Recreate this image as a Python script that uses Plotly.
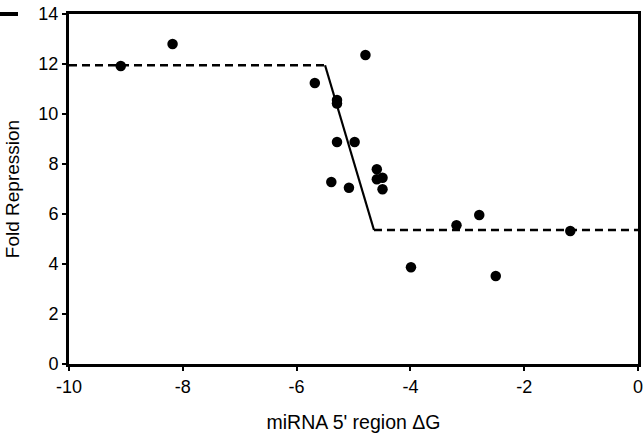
import plotly.graph_objects as go

# Data points
dg = [-9.09, -8.18, -5.68, -5.29, -5.29, -4.79, -5.29, -4.98, -5.39, -5.08,
      -4.59, -4.59, -4.49, -4.49, -3.99, -3.19, -2.79, -2.50, -1.19]
fold = [11.92, 12.80, 11.24, 10.56, 10.42, 12.36, 8.88, 8.88, 7.28, 7.05,
        7.79, 7.39, 7.45, 6.99, 3.87, 5.55, 5.96, 3.52, 5.32]

# Piecewise fit: plateau, transition, plateau
upper_x = [-10, -5.50]
upper_y = [11.95, 11.95]
slope_x = [-5.50, -4.64]
slope_y = [11.95, 5.36]
lower_x = [-4.64, 0]
lower_y = [5.36, 5.36]

x_ticks = [-10, -8, -6, -4, -2, 0]
y_ticks = [0, 2, 4, 6, 8, 10, 12, 14]
x_ticktext = [str(v) for v in x_ticks]   # plain hyphen minus, as in the original
y_ticktext = [str(v) for v in y_ticks]

font = "Liberation Sans, Arial, Helvetica, sans-serif"

fig = go.Figure()
fig.add_trace(go.Scatter(x=upper_x, y=upper_y, mode="lines",
                         line=dict(color="black", width=2.7, dash="8px,5px"),
                         hoverinfo="skip"))
fig.add_trace(go.Scatter(x=lower_x, y=lower_y, mode="lines",
                         line=dict(color="black", width=2.7, dash="8px,5px"),
                         hoverinfo="skip"))
fig.add_trace(go.Scatter(x=slope_x, y=slope_y, mode="lines",
                         line=dict(color="black", width=2.2),
                         hoverinfo="skip"))
fig.add_trace(go.Scatter(x=dg, y=fold, mode="markers",
                         marker=dict(color="black", size=10.5, line=dict(width=0))))

fig.update_layout(
    width=643, height=437,
    margin=dict(l=69, r=5, t=14, b=73, autoexpand=False),
    paper_bgcolor="white", plot_bgcolor="white",
    showlegend=False,
    font=dict(family=font, color="black", size=18),
)
fig.update_xaxes(range=[-10, 0], tickvals=x_ticks, ticktext=x_ticktext,
                 showgrid=False, zeroline=False,
                 showline=True, linecolor="black", linewidth=3, mirror=True,
                 ticks="outside", ticklen=4, tickwidth=1.5, tickcolor="black",
                 tickfont=dict(size=18), automargin=False, ticklabeloverflow="allow",
                 title=dict(text="miRNA 5' region ΔG", font=dict(size=19.5), standoff=20))
fig.update_yaxes(range=[0, 14], tickvals=y_ticks, ticktext=y_ticktext,
                 showgrid=False, zeroline=False,
                 showline=True, linecolor="black", linewidth=3, mirror=True,
                 ticks="outside", ticklen=4, tickwidth=1.5, tickcolor="black",
                 tickfont=dict(size=18), automargin=False,
                 title=dict(text="Fold Repression", font=dict(size=19), standoff=14))

# small fragment of a panel mark at the top-left corner
fig.add_shape(type="line", xref="paper", yref="paper",
              x0=-69/569, x1=-51/569, y0=1.0, y1=1.0,
              line=dict(color="black", width=4))

fig.write_html("out.html", config={"displayModeBar": False},
               post_script="document.body.style.margin='0';document.body.style.padding='0';")
